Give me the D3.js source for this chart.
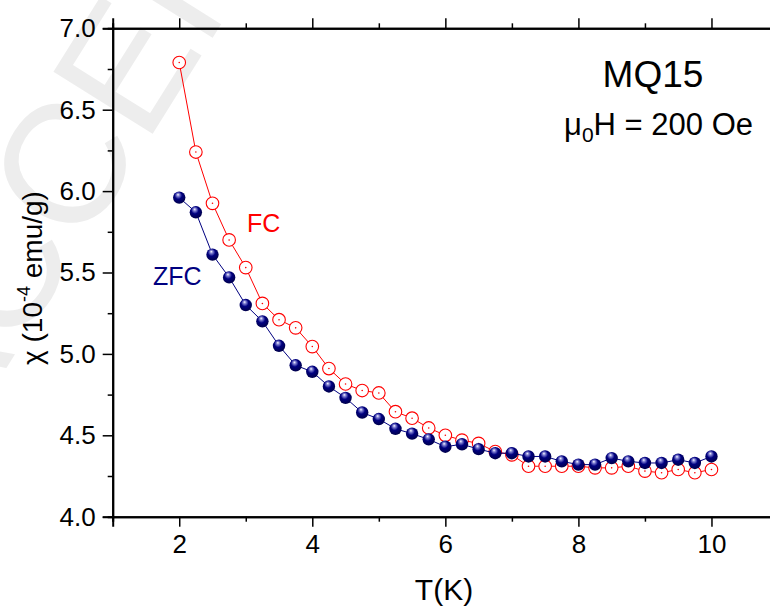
<!DOCTYPE html>
<html lang="en">
<head>
<meta charset="UTF-8">
<title>MQ15 susceptibility</title>
<script src="https://cdn.jsdelivr.net/npm/d3@7"></script>
<style>
  body { margin: 0; background: #fff; }
  svg text { font-family: Arial, "Liberation Sans", sans-serif; }
</style>
</head>
<body>
<script>
// temperatures (K)
var temps = [2, 2.25, 2.5, 2.75, 3, 3.25, 3.5, 3.75, 4, 4.25, 4.5, 4.75, 5, 5.25, 5.5, 5.75,
             6, 6.25, 6.5, 6.75, 7, 7.25, 7.5, 7.75, 8, 8.25, 8.5, 8.75, 9, 9.25, 9.5, 9.75, 10];
// field cooled, 10^-4 emu/g
var fcValues = [6.79, 6.24, 5.925, 5.70, 5.53, 5.31, 5.21, 5.16, 5.045, 4.91, 4.815, 4.775, 4.76, 4.645, 4.605, 4.545,
                4.50, 4.47, 4.45, 4.40, 4.38, 4.31, 4.31, 4.31, 4.31, 4.30, 4.30, 4.31, 4.28, 4.27, 4.29, 4.27, 4.29];
// zero field cooled
var zfcValues = [5.96, 5.87, 5.61, 5.47, 5.30, 5.20, 5.05, 4.93, 4.89, 4.80, 4.73, 4.64, 4.60, 4.54, 4.51, 4.475,
                 4.43, 4.445, 4.415, 4.39, 4.39, 4.37, 4.37, 4.34, 4.32, 4.32, 4.36, 4.34, 4.33, 4.33, 4.35, 4.33, 4.37];
var xTicks = [2, 4, 6, 8, 10];
var xMinor = [1, 3, 5, 7, 9, 11];
var yTicks = [4.0, 4.5, 5.0, 5.5, 6.0, 6.5, 7.0];
var yMinor = [4.25, 4.75, 5.25, 5.75, 6.25, 6.75];

var W = 770, H = 606;
var svg = d3.select('body').append('svg').attr('width', W).attr('height', H);

// faint journal watermark
svg.append('text')
  .attr('transform', 'translate(-45,450) rotate(-58)')
  .attr('font-size', 170)
  .attr('fill', '#ededed')
  .text('ACCEPTED');

var x = d3.scaleLinear().domain([1, 11]).range([112.7, 778]);
var y = d3.scaleLinear().domain([4, 7]).range([516.7, 28.3]);

var defs = svg.append('defs');
var grad = defs.append('radialGradient').attr('id', 'ball')
  .attr('cx', '45%').attr('cy', '40%').attr('r', '60%')
  .attr('fx', '40%').attr('fy', '25%');
grad.append('stop').attr('offset', '0%').attr('stop-color', '#ffffff');
grad.append('stop').attr('offset', '18%').attr('stop-color', '#8a8ad8');
grad.append('stop').attr('offset', '50%').attr('stop-color', '#000080');
grad.append('stop').attr('offset', '100%').attr('stop-color', '#00004a');

// axes
var g = svg.append('g');
g.append('g').attr('transform', 'translate(0,' + y(4) + ')')
  .call(d3.axisBottom(x).tickValues(xTicks).tickSize(10).tickPadding(8).tickFormat(d3.format('d')));
g.append('g').attr('transform', 'translate(0,' + y(4) + ')')
  .call(d3.axisBottom(x).tickValues(xMinor).tickSize(5).tickFormat(''));
g.append('g').attr('transform', 'translate(0,' + y(7) + ')')
  .call(d3.axisBottom(x).tickValues(xTicks).tickSize(-10).tickFormat(''));
g.append('g').attr('transform', 'translate(0,' + y(7) + ')')
  .call(d3.axisBottom(x).tickValues(xMinor).tickSize(-5).tickFormat(''));
g.append('g').attr('transform', 'translate(' + x(1) + ',0)')
  .call(d3.axisLeft(y).tickValues(yTicks).tickSize(10).tickPadding(7).tickFormat(d3.format('.1f')));
g.append('g').attr('transform', 'translate(' + x(1) + ',0)')
  .call(d3.axisLeft(y).tickValues(yMinor).tickSize(5).tickFormat(''));
g.append('g').attr('transform', 'translate(' + x(11) + ',0)')
  .call(d3.axisLeft(y).tickValues(yTicks).tickSize(-10).tickFormat(''));
g.append('g').attr('transform', 'translate(' + x(11) + ',0)')
  .call(d3.axisLeft(y).tickValues(yMinor).tickSize(-5).tickFormat(''));
g.selectAll('.domain').attr('stroke', '#000').attr('stroke-width', 2);
g.selectAll('.tick line').attr('stroke', '#000').attr('stroke-width', 1.5);
g.selectAll('.tick text').style('font-size', '26px').attr('fill', '#000');

var fcData = temps.map(function(t, i) { return [t, fcValues[i]]; });
var zfcData = temps.map(function(t, i) { return [t, zfcValues[i]]; });
var line = d3.line().x(function(d) { return x(d[0]); }).y(function(d) { return y(d[1]); });

// FC
svg.append('path').datum(fcData).attr('d', line)
  .attr('fill', 'none').attr('stroke', '#ff0000').attr('stroke-width', 1);
svg.selectAll('circle.fc').data(fcData).enter().append('circle')
  .attr('class', 'fc')
  .attr('cx', function(d) { return x(d[0]); })
  .attr('cy', function(d) { return y(d[1]); })
  .attr('r', 6.3).attr('fill', '#fff').attr('stroke', '#ff0000').attr('stroke-width', 1.1);
svg.selectAll('circle.fcdot').data(fcData).enter().append('circle')
  .attr('class', 'fcdot')
  .attr('cx', function(d) { return x(d[0]); })
  .attr('cy', function(d) { return y(d[1]); })
  .attr('r', 0.8).attr('fill', '#ff0000');

// ZFC
svg.append('path').datum(zfcData).attr('d', line)
  .attr('fill', 'none').attr('stroke', '#000080').attr('stroke-width', 1);
svg.selectAll('circle.zfc').data(zfcData).enter().append('circle')
  .attr('class', 'zfc')
  .attr('cx', function(d) { return x(d[0]); })
  .attr('cy', function(d) { return y(d[1]); })
  .attr('r', 6.2).attr('fill', 'url(#ball)');

// labels
svg.append('text').attr('x', 247).attr('y', 232).attr('font-size', 25).attr('fill', '#ff0000').text('FC');
svg.append('text').attr('x', 153).attr('y', 285).attr('font-size', 25).attr('fill', '#000080').text('ZFC');
svg.append('text').attr('x', 653).attr('y', 87).attr('font-size', 37).attr('text-anchor', 'middle').text('MQ15');
var fld = svg.append('text').attr('x', 753).attr('y', 135).attr('font-size', 31).attr('text-anchor', 'end');
fld.append('tspan').text('\u03bc');
fld.append('tspan').attr('font-size', 21).attr('dy', 7).text('0');
fld.append('tspan').attr('dy', -7).text('H = 200 Oe');

svg.append('text').attr('x', 444).attr('y', 600).attr('font-size', 30).attr('text-anchor', 'middle').text('T(K)');
var yl = svg.append('text').attr('transform', 'translate(42,278) rotate(-90)')
  .attr('font-size', 28).attr('text-anchor', 'middle');
yl.append('tspan').text('\u03c7 (10');
yl.append('tspan').attr('font-size', 18).attr('dy', -12).text('-4');
yl.append('tspan').attr('dy', 12).text(' emu/g)');
</script>
</body>
</html>
